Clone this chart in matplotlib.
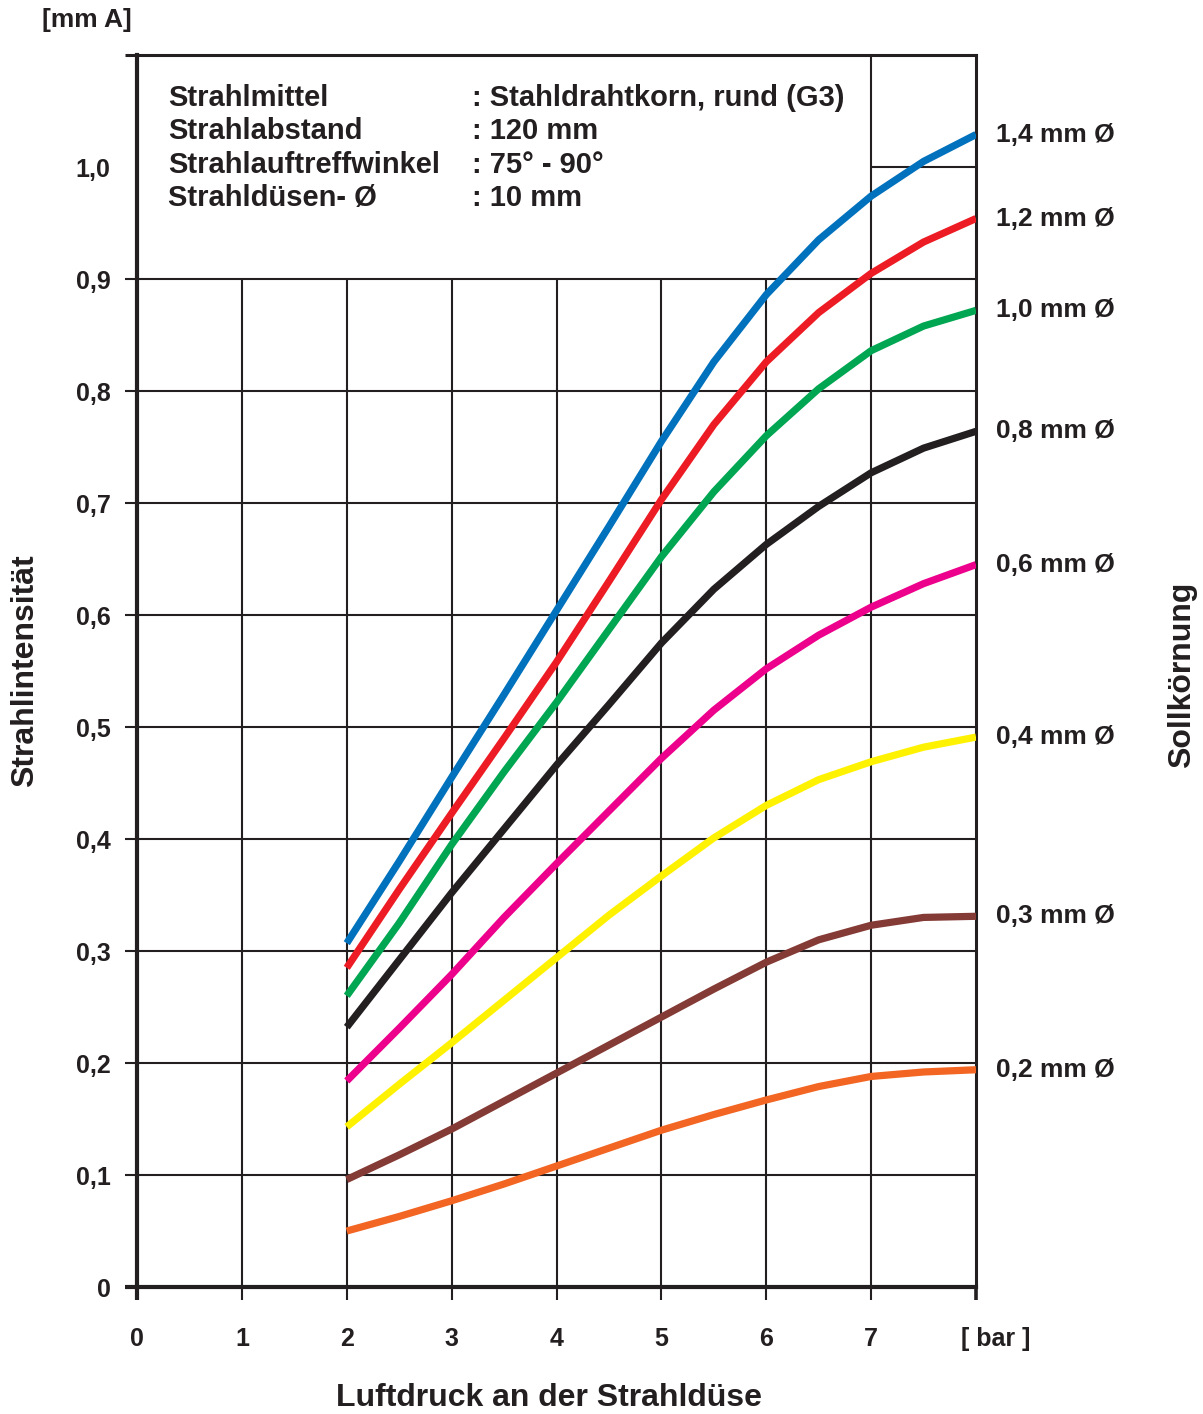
import numpy as np
import matplotlib
matplotlib.use("Agg")
from matplotlib import pyplot as plt
from matplotlib.transforms import ScaledTranslation

plt.rcParams['font.family'] = ['Liberation Sans', 'DejaVu Sans']
plt.rcParams['font.weight'] = 'bold'
INK = '#231f20'

# Luftdruck [bar]
druck = [2, 2.5, 3, 3.5, 4, 4.5, 5, 5.5, 6, 6.5, 7, 7.5, 8]

# Strahlintensitaet [mm A] je Sollkoernung
k14 = [0.307, 0.380, 0.455, 0.529, 0.604, 0.679, 0.755, 0.826, 0.886, 0.935, 0.974, 1.005, 1.029]
k12 = [0.285, 0.355, 0.423, 0.490, 0.558, 0.630, 0.703, 0.770, 0.826, 0.870, 0.905, 0.933, 0.954]
k10 = [0.260, 0.325, 0.395, 0.460, 0.522, 0.587, 0.652, 0.710, 0.760, 0.802, 0.836, 0.858, 0.872]
k08 = [0.232, 0.292, 0.352, 0.409, 0.466, 0.520, 0.575, 0.623, 0.663, 0.697, 0.727, 0.749, 0.764]
k06 = [0.184, 0.231, 0.279, 0.330, 0.378, 0.425, 0.472, 0.515, 0.552, 0.582, 0.607, 0.628, 0.645]
k04 = [0.143, 0.181, 0.218, 0.256, 0.294, 0.332, 0.367, 0.401, 0.430, 0.453, 0.469, 0.482, 0.491]
k03 = [0.096, 0.118, 0.141, 0.166, 0.191, 0.216, 0.241, 0.266, 0.290, 0.310, 0.323, 0.330, 0.331]
k02 = [0.050, 0.063, 0.077, 0.092, 0.108, 0.124, 0.140, 0.154, 0.167, 0.179, 0.188, 0.192, 0.194]

serien = [k14, k12, k10, k08, k06, k04, k03, k02]
namen = ['1,4 mm Ø', '1,2 mm Ø', '1,0 mm Ø', '0,8 mm Ø',
         '0,6 mm Ø', '0,4 mm Ø', '0,3 mm Ø', '0,2 mm Ø']
farben = ['#0071bc', '#ed1c24', '#00a651', '#231f20',
          '#ec008c', '#fff200', '#843a35', '#f26522']

xticks = [0, 1, 2, 3, 4, 5, 6, 7, 8]
xlabels = ['0', '1', '2', '3', '4', '5', '6', '7', '[ bar ]']
yticks = [0, 0.1, 0.2, 0.3, 0.4, 0.5, 0.6, 0.7, 0.8, 0.9, 1.0, 1.1]
ylabels = ['0', '0,1', '0,2', '0,3', '0,4', '0,5', '0,6', '0,7', '0,8', '0,9', '1,0', '']

info_links = ['Strahlmittel', 'Strahlabstand', 'Strahlauftreffwinkel', 'Strahldüsen- Ø']
info_rechts = [': Stahldrahtkorn, rund (G3)', ': 120 mm', ': 75° - 90°', ': 10 mm']

fig = plt.figure(figsize=(12.03, 14.14), dpi=100)
ax = fig.add_axes([0.1139, 0.0898, 0.6974, 0.8713])
ax.set_xlim(0, 8)
ax.set_ylim(0, 1.1)

# Raster
ax.vlines([1, 2, 3, 4, 5, 6], 0, 0.9, color=INK, lw=1.5, zorder=1)
ax.vlines([7], 0, 1.1, color=INK, lw=1.5, zorder=1)
ax.hlines([0.1, 0.2, 0.3, 0.4, 0.5, 0.6, 0.7, 0.8, 0.9], 0, 8, color=INK, lw=1.5, zorder=1)
ax.hlines([1.0], 7, 8, color=INK, lw=1.5, zorder=1)

for werte, farbe, name in zip(serien, farben, namen):
    ax.plot(druck, werte, color=farbe, lw=5.2, solid_capstyle='butt',
            solid_joinstyle='round', zorder=3)
    ax.text(8.19, werte[-1], name, fontsize=19, color=INK, va='center', ha='left',
            clip_on=False)

# Infoblock
for i, (a, b) in enumerate(zip(info_links, info_rechts)):
    yy = 1.062 - i * 0.030
    ax.text(0.30, yy, a, fontsize=21, color=INK, va='center', ha='left')
    ax.text(3.19, yy, b, fontsize=21, color=INK, va='center', ha='left')

# Achsen
for s in ['left', 'bottom']:
    ax.spines[s].set_linewidth(3.0)
for s in ['top', 'right']:
    ax.spines[s].set_linewidth(2.2)
for s in ax.spines.values():
    s.set_color(INK)

ax.set_xticks(xticks)
ax.set_xticklabels(xlabels, fontsize=18, color=INK)
ax.set_yticks(yticks)
ax.set_yticklabels(ylabels, fontsize=18, color=INK)
ax.tick_params(axis='x', direction='out', length=9.5, width=1.5, pad=19, colors=INK)
ax.tick_params(axis='y', direction='out', length=9, width=1.5, pad=10, colors=INK)

xt = ax.xaxis.get_major_ticks()
xt[0].tick1line.set_markeredgewidth(3.0)
xt[-1].tick1line.set_markeredgewidth(2.6)
yt = ax.yaxis.get_major_ticks()
yt[0].tick1line.set_markeredgewidth(3.0)
yt[10].tick1line.set_visible(False)
yt[11].tick1line.set_markeredgewidth(2.2)

lbl = ax.get_xticklabels()[-1]
lbl.set_transform(lbl.get_transform() + ScaledTranslation(0.2, 0, fig.dpi_scale_trans))

fig.text(0.0349, 0.9859, '[mm A]', fontsize=19, color=INK, ha='left', va='center')
fig.text(0.0208, 0.526, 'Strahlintensität', fontsize=23, color=INK, rotation=90,
         ha='center', va='center')
fig.text(0.9825, 0.5226, 'Sollkörnung', fontsize=23, color=INK, rotation=90,
         ha='center', va='center')
fig.text(0.4564, 0.0113, 'Luftdruck an der Strahldüse', fontsize=23, color=INK,
         ha='center', va='center')

fig.savefig('out.png', dpi=100)
